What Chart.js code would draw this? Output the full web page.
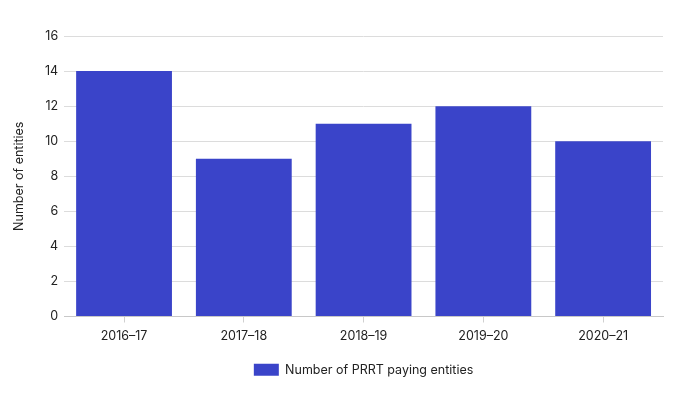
<!DOCTYPE html>
<html><head><meta charset="utf-8">
<script src="https://cdn.jsdelivr.net/npm/chart.js@4/dist/chart.umd.min.js"></script>
<style>html,body{margin:0;padding:0;background:#fff}#w{width:689px;height:398px}</style>
</head><body><div id="w"><canvas id="c"></canvas></div>
<script>
const categories = ["2016\u201317","2017\u201318","2018\u201319","2019\u201320","2020\u201321"];
const entities = [14, 9, 11, 12, 10];
const yTicks = [0,2,4,6,8,10,12,14,16];
Chart.defaults.font.family = "Inter, 'Noto Sans', sans-serif";
Chart.defaults.font.size = 12.5;
Chart.defaults.color = "#222";
new Chart(document.getElementById('c'), {
  type: 'bar',
  data: { labels: categories, datasets: [{ label: 'Number of PRRT paying entities', data: entities, backgroundColor: '#3a44c9', categoryPercentage: 0.8, barPercentage: 1.0 }] },
  options: {
    responsive: true, maintainAspectRatio: false, animation: false,
    layout: { padding: { left: 12, right: 26, top: 36, bottom: 12 } },
    plugins: {
      legend: { position: 'bottom', fullSize: false, labels: { boxWidth: 25, boxHeight: 12, padding: 14, color: '#222' } },
      tooltip: { enabled: false }
    },
    scales: {
      x: { grid: { display: true, offset: false, drawOnChartArea: false, tickLength: 6, color: '#d0d0d0' }, border: { color: '#c8c8c8' }, ticks: { padding: 6 } },
      y: { min: 0, max: 16, afterBuildTicks: s => { s.ticks = yTicks.map(v => ({value: v})); },
           grid: { color: '#dcdcdc', drawTicks: false }, border: { display: false },
           ticks: { padding: 6 },
           title: { display: true, text: 'Number of entities', color: '#222', font: { size: 12.5 }, padding: { top: 0, bottom: 12 } } }
    }
  }
});
</script></body></html>
